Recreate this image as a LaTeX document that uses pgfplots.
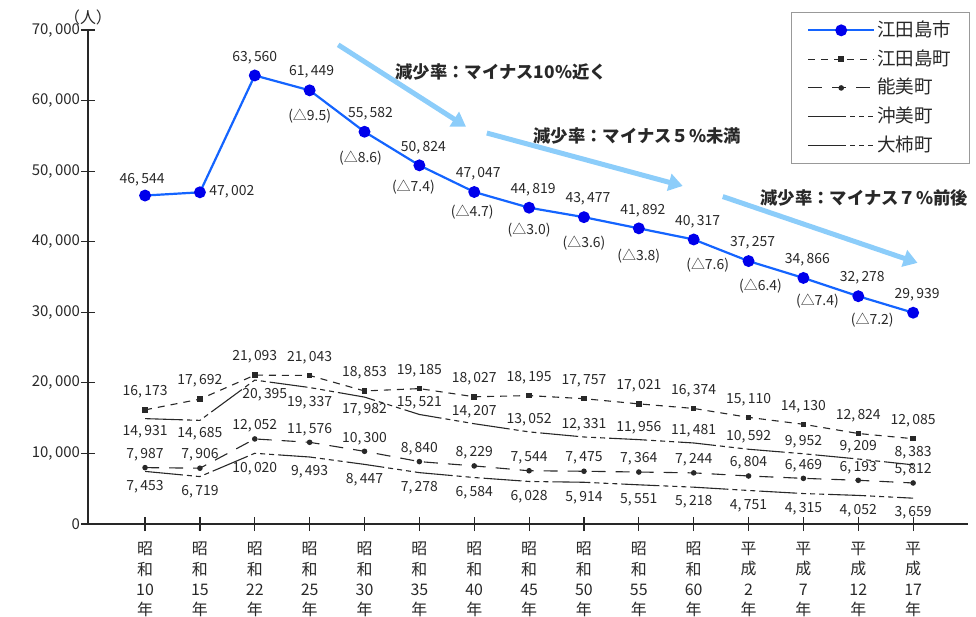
\documentclass[border=0pt]{standalone}
\usepackage{fontspec}
\setmainfont{Noto Sans CJK JP}
\usepackage{pgfplots}
\pgfplotsset{compat=1.18}
\usepackage{pgfplotstable}
\usetikzlibrary{arrows.meta}

\definecolor{cityline}{RGB}{20,100,255}
\definecolor{citymark}{RGB}{0,0,235}
\definecolor{ink}{RGB}{40,40,40}
\definecolor{trend}{RGB}{140,205,250}

\pgfplotsset{/pgf/number format/assume math mode=true}

% population by census year; dx, dy place each value label (bp)
\pgfplotstableread{
x y dx dy
0 46544 -1.5 8
1 47002 16 0.5
2 63560 0 9
3 61449 1 9.5
4 55582 3 9
5 50824 2 9
6 47047 2 9
7 44819 2 9
8 43477 2 9
9 41892 2 9
10 40317 2 9
11 37257 2 9
12 34866 2 9
13 32278 2 9
14 29939 2 9
}\city

% rate of decrease to the next census (percent)
\pgfplotstableread{
x y dx dy lab
3 61449 0 -13 (△9.5)
4 55582 -2 -13 (△8.6)
5 50824 -3 -11 (△7.4)
6 47047 -1 -10 (△4.7)
7 44819 0 -11 (△3.0)
8 43477 0 -13 (△3.6)
9 41892 0 -14 (△3.8)
10 40317 7 -13 (△7.6)
11 37257 6 -12.5 (△6.4)
12 34866 7 -11.5 (△7.4)
13 32278 7 -12 (△7.2)
}\rates

\pgfplotstableread{
x y dx dy
0 16173 0 9
1 17692 0 9
2 21093 0 9
3 21043 0 9
4 18853 0 9
5 19185 0 9
6 18027 0 9
7 18195 0 9
8 17757 0 9
9 17021 0 9
10 16374 0 9
11 15110 0 9
12 14130 0 9
13 12824 0 9
14 12085 0 9
}\etajima

\pgfplotstableread{
x y dx dy
0 7987 0 6.5
1 7906 0 6.5
2 12052 0 6.5
3 11576 0 6.5
4 10300 0 6.5
5 8840 0 6.5
6 8229 0 6.5
7 7544 0 6.5
8 7475 0 6.5
9 7364 0 6.5
10 7244 0 6.5
11 6804 0 6.5
12 6469 0 6.5
13 6193 0 6.5
14 5812 0 6.5
}\nomi

\pgfplotstableread{
x y dx dy
0 7453 0 -7.5
1 6719 0 -7.5
2 10020 0 -7.5
3 9493 0 -7.5
4 8447 0 -7.5
5 7278 0 -7.5
6 6584 0 -7.5
7 6028 0 -7.5
8 5914 0 -7.5
9 5551 0 -7.5
10 5218 0 -7.5
11 4751 0 -7.5
12 4315 0 -7.5
13 4052 0 -7.5
14 3659 0 -7.5
}\okimi

\pgfplotstableread{
x y dx dy
0 14931 0 -6.5
1 14685 0 -6.5
2 20395 5 -7.5
3 19337 0 -7.5
4 17982 0 -6.5
5 15521 0 6
6 14207 0 6
7 13052 0 6
8 12331 0 6
9 11956 0 6
10 11481 0 6
11 10592 0 6
12 9952 0 6
13 9209 0 6
14 8383 0 6
}\ogaki

\pgfplotsset{
  vallabels/.style={
    nodes near coords,
    visualization depends on={\thisrow{dx} \as \dx},
    visualization depends on={\thisrow{dy} \as \dy},
    every node near coord/.append style={anchor=center, xshift=\dx bp, yshift=\dy bp,
      font=\fontsize{7}{8}\selectfont, text=ink, inner sep=0pt,
      /pgf/number format/.cd, fixed, precision=0, 1000 sep={,\,}},
  },
}

\begin{document}
\begin{tikzpicture}
\path[use as bounding box] (-44bp,-46.5bp) rectangle (444bp,262bp);
\begin{axis}[
  at={(0,0)}, anchor=south west,
  scale only axis, width=440bp, height=247bp,
  xmin=-1.04, xmax=15, ymin=0, ymax=70000,
  axis x line=bottom, axis y line=left,
  axis line style={-, draw=ink, line width=0.7bp},
  clip=false,
  xtick={0,...,14},
  xticklabels={{昭\\和\\10\\年},{昭\\和\\15\\年},{昭\\和\\22\\年},{昭\\和\\25\\年},{昭\\和\\30\\年},{昭\\和\\35\\年},{昭\\和\\40\\年},{昭\\和\\45\\年},{昭\\和\\50\\年},{昭\\和\\55\\年},{昭\\和\\60\\年},{平\\成\\2\\年},{平\\成\\7\\年},{平\\成\\12\\年},{平\\成\\17\\年}},
  ytick={0,10000,...,70000},
  tick align=center,
  major tick length=7bp,
  tick style={draw=ink, line width=0.6bp},
  scaled y ticks=false,
  yticklabel style={font=\fontsize{7.5}{9}\selectfont, text=ink, xshift=3bp,
    /pgf/number format/.cd, fixed, 1000 sep={,\,}},
  xticklabel style={align=center, font=\fontsize{8}{10.25}\selectfont, text=ink, yshift=-2bp},
  legend style={at={(1.0023,1.037)}, anchor=north east, draw=gray!80, line width=0.6bp,
    fill=white, font=\fontsize{9.3}{11}\selectfont, text=ink,
    inner xsep=8bp, inner ysep=3bp, row sep=2.4bp,
    nodes={inner sep=1bp, text height=8bp, text depth=2bp}},
  legend cell align=left,
  legend image code/.code={\draw[mark repeat=2, mark phase=2] plot coordinates {(0bp,0bp) (16.5bp,0bp) (33bp,0bp)};},
]
\addplot[cityline, line width=1.1bp, mark=*, mark size=2.4bp,
  mark options={draw=citymark, fill=citymark}, vallabels]
  table[x=x, y=y] \city;
\addlegendentry{江田島市}
\addplot[ink, line width=0.55bp, dash pattern=on 3.5bp off 3bp, mark=square*, mark size=1.1bp,
  mark options={solid}, vallabels]
  table[x=x, y=y] \etajima;
\addlegendentry{江田島町}
\addplot[ink, line width=0.55bp, dash pattern=on 7bp off 5bp, mark=*, mark size=1.1bp,
  mark options={solid}, vallabels]
  table[x=x, y=y] \nomi;
\addlegendentry{能美町}
\addplot[ink, line width=0.55bp,
  dash pattern=on 19bp off 2bp on 2.5bp off 2bp on 2.5bp off 2bp on 2.5bp off 2bp, vallabels]
  table[x=x, y=y] \okimi;
\addlegendentry{沖美町}
\addplot[ink, line width=0.55bp,
  dash pattern=on 19bp off 2bp on 2.5bp off 2bp on 2.5bp off 2bp on 2.5bp off 2bp, vallabels]
  table[x=x, y=y] \ogaki;
\addlegendentry{大柿町}
\addplot[draw=none, forget plot, vallabels, point meta=explicit symbolic]
  table[x=x, y=y, meta=lab] \rates;

% trend arrows and notes
\draw[trend, line width=2.5bp, -{Triangle[length=7bp, width=8.5bp]}]
  (axis cs:3.52,67900) -- (axis cs:5.85,56300);
\draw[trend, line width=2.5bp, -{Triangle[length=7bp, width=8.5bp]}]
  (axis cs:6.23,55400) -- (axis cs:9.80,47900);
\draw[trend, line width=2.5bp, -{Triangle[length=7bp, width=8.5bp]}]
  (axis cs:10.53,46400) -- (axis cs:14.08,37000);
\node[anchor=west, inner sep=0pt, text=ink, font=\bfseries\fontsize{8.7}{10}\selectfont] at (axis cs:4.56,64050) {減少率：マイナス10\%近く};
\node[anchor=west, inner sep=0pt, text=ink, font=\bfseries\fontsize{8.7}{10}\selectfont] at (axis cs:7.07,54980) {減少率：マイナス５\%未満};
\node[anchor=west, inner sep=0pt, text=ink, font=\bfseries\fontsize{8.7}{10}\selectfont] at (axis cs:11.21,46200) {減少率：マイナス７\%前後};
\node[text=ink, font=\fontsize{8}{9}\selectfont] at (rel axis cs:0,1) [yshift=6.5bp] {（人）};
\end{axis}
\end{tikzpicture}
\end{document}
